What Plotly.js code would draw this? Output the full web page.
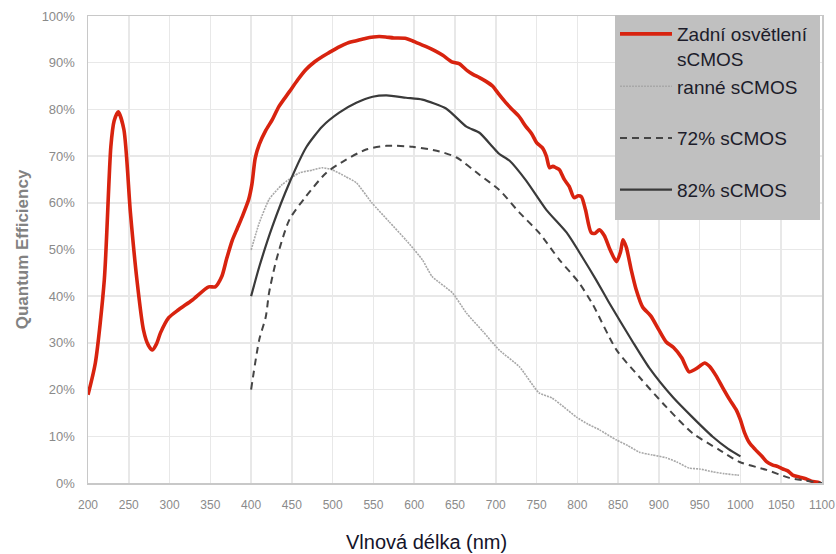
<!DOCTYPE html>
<html>
<head>
<meta charset="utf-8">
<script src="https://cdn.plot.ly/plotly-3.0.1.min.js"></script>
<style>html,body{margin:0;padding:0;background:#fff;}#chart{width:836px;height:554px;}</style>
</head>
<body>
<div id="chart"></div>
<script>
// Zadní osvětlení sCMOS (back-illuminated)
const bsiX = [200,209,220,228,232,237,244,252,260,268,274,279,284,289,299,311,328,348,356,364,370,377,383,389,397,401,405,410,418,426,434,447,457,467,478,488,496,508,518,529,540,550,557,565,575,590,600,614,625,635,646,655,665,672,680,688,696,704,712,720,728,737,744,750,757,762,766,770,774,778,784,790,796,801,805,810,817,822,827,833,840,848,853,856,860,866,872,880,890,900,909,918,928,937,944,950,956,962,970,978,987,995,1000,1005,1011,1018,1026,1032,1039,1046,1052,1058,1064,1072,1080,1087,1093,1098];
const bsiY = [18.9,25.7,43.5,72,77.5,79.5,75.7,57.9,43.5,32.8,29.5,28.5,29.8,32.2,35.4,37.1,39.2,42,42,44.2,48,52,54.5,57,60.7,64,69.5,72.5,75.5,77.8,80.6,83.8,86.3,88.5,90.2,91.4,92.2,93.4,94.2,94.7,95.2,95.5,95.6,95.5,95.3,95.2,94.5,93.5,92.6,91.6,90.2,89.8,88.3,87.5,86.8,86,85,83.2,81.5,80,78.6,76.3,74.8,72.9,71.8,70,67.5,67.8,67.5,67.1,65,63.5,61.1,61.5,61.3,58.5,53.6,53.5,54.2,53,50,47.4,49.5,52.1,50.5,45.7,41.5,37.7,35.8,32.8,30.2,29,26.8,23.8,24.3,25,25.7,25,23,20.5,17.8,15.6,13.5,10.8,8.6,7.2,5.8,4.6,3.9,3.5,3,2.6,1.7,1.3,0.9,0.4,0.2,0];

// ranné sCMOS (early)
const earlyX = [400,410,422,438,459,475,487,499,516,529,548,569,590,610,622,647,664,684,704,729,753,769,784,799,813,827,848,862,876,892,909,922,937,950,966,980,996,1000];
const earlyY = [49.9,55.7,60.7,63.9,66.4,67,67.5,67.1,65.6,64.3,60,56,52,47.8,44.2,40.7,36.4,32.5,28.5,24.9,19.3,18.2,16.2,14.1,12.6,11.4,9.2,8,6.6,6,5.4,4.5,3.2,3,2.4,2,1.7,1.6];

// 72% sCMOS
const s72X = [400,410,418,422,431,447,467,492,516,541,566,598,631,652,680,704,729,753,778,802,819,848,876,909,941,974,999,1032,1060,1080,1100];
const s72Y = [20,30.7,35.6,40.7,47.8,56.4,61.3,66.4,69.2,71.4,72.2,72,71,69.7,66,62.8,57.9,53.6,47.8,42.9,38.2,28.5,22.7,16.3,10.7,7.1,4.5,2.8,1.1,0.5,0];

// 82% sCMOS
const s82X = [400,410,426,447,468,487,508,529,549,566,590,610,639,664,680,696,704,717,737,762,787,806,823,839,868,888,917,941,966,985,1000];
const s82Y = [40,46.3,54.9,64.3,72,76.3,79.3,81.4,82.7,83,82.5,82.1,80.2,76.3,75,72,70.5,69,64.8,58.5,53.6,48.4,43.5,38.6,30.2,24.7,18.4,14.1,9.9,7.3,5.7];

const xTicks = [200,250,300,350,400,450,500,550,600,650,700,750,800,850,900,950,1000,1050,1100];
const yTicks = [0,10,20,30,40,50,60,70,80,90,100];

const names = ['Zadní osvětlení<br>sCMOS','ranné sCMOS','72% sCMOS','82% sCMOS'];

const traces = [
  {x: bsiX, y: bsiY, name: names[0], legendgroup:'a', mode:'lines',
   line:{color:'#d8230f', width:3.6, shape:'spline', smoothing:0.7}},
  {x: earlyX, y: earlyY, name: names[1], legendgroup:'a', mode:'lines',
   line:{color:'#a8a8a8', width:1.6, dash:'2px,1px', shape:'spline', smoothing:0.5}},
  {x: s72X, y: s72Y, name: names[2], legendgroup:'c', mode:'lines',
   line:{color:'#454545', width:2, dash:'7px,5px', shape:'spline', smoothing:0.7}},
  {x: s82X, y: s82Y, name: names[3], legendgroup:'d', mode:'lines',
   line:{color:'#3a3a3a', width:2.2, shape:'spline', smoothing:0.6}}
];

const px = v => (v - 88) / 734;   // helper for paper x from pixel
const py = v => (483 - v) / 467;  // helper for paper y from pixel

const layout = {
  width: 836, height: 554,
  margin: {l:88, r:14, t:16, b:71},
  paper_bgcolor:'#ffffff', plot_bgcolor:'#ffffff',
  font: {family:'Arial, Liberation Sans, sans-serif', color:'#888888', size:12},
  showlegend: true,
  legend: {
    x: px(615), xanchor:'left', y: py(15), yanchor:'top',
    bgcolor:'rgba(0,0,0,0)', borderwidth:0,
    font:{family:'Arial, Liberation Sans, sans-serif', size:19, color:'#1c1c2a'},
    tracegroupgap: 24, itemwidth: 52, valign:'top'
  },
  shapes: [
    {type:'rect', xref:'paper', yref:'paper', x0:px(615), x1:px(820), y0:py(220), y1:py(15),
     fillcolor:'#c0c0c0', line:{width:0}, layer:'above'}
  ],
  xaxis: {
    range:[200,1100], tickvals:xTicks, ticktext:xTicks.map(String),
    showgrid:true, gridcolor:'#e8e8e8', gridwidth:1.5,
    showline:true, linecolor:'#c8c8c8', linewidth:1.5, mirror:true,
    zeroline:false, ticks:'', ticklabelstandoff:10,
    tickfont:{size:12, color:'#8a8a8a'}
  },
  yaxis: {
    range:[0,100], tickvals:yTicks, ticktext:yTicks.map(v=>v+'%'),
    showgrid:true, gridcolor:'#e8e8e8', gridwidth:1.5,
    showline:true, linecolor:'#c8c8c8', linewidth:1.5, mirror:true,
    zeroline:false, ticks:'', ticklabelstandoff:9,
    tickfont:{size:13, color:'#8a8a8a'},
    title:{text:'<b>Quantum Efficiency</b>', standoff:8, font:{size:17, color:'#828282'}}
  },
  annotations: [
    {text:'Vlnová délka (nm)', xref:'paper', yref:'paper', x:px(426), y:-(542-483)/467,
     xanchor:'center', yanchor:'middle', showarrow:false,
     font:{family:'Arial, Liberation Sans, sans-serif', size:20, color:'#14142a'}}
  ]
};

Plotly.newPlot('chart', traces, layout, {displayModeBar:false, staticPlot:true});
</script>
</body>
</html>
